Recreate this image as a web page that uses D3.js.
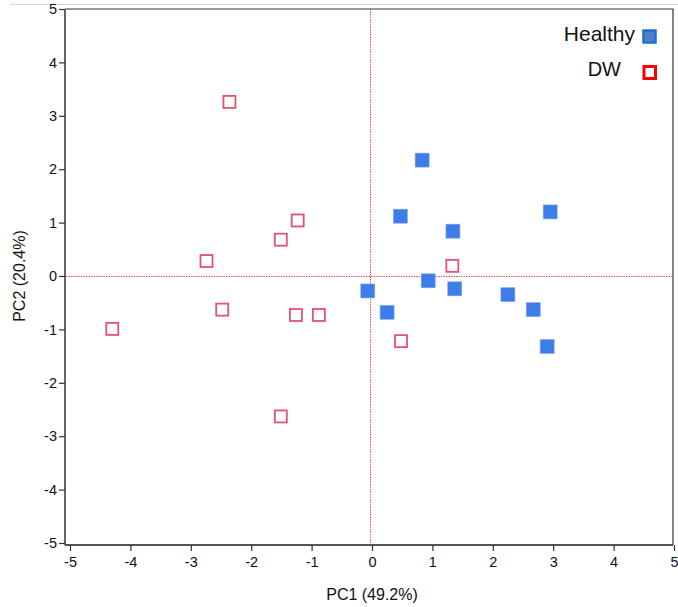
<!DOCTYPE html>
<html lang="en">
<head>
<meta charset="UTF-8">
<title>PCA scores</title>
<script src="https://d3js.org/d3.v7.min.js"></script>
<style>
  body { margin: 0; background: #fff; }
  text { font-family: "Liberation Sans", Arial, sans-serif; }
</style>
</head>
<body>
<svg id="main" width="678" height="607"></svg>
<script>
// scores
const healthyPC1 = [0.83, 0.47, 1.34, 2.95, 0.93, -0.07, 0.25, 1.37, 2.25, 2.67, 2.90];
const healthyPC2 = [2.17, 1.12, 0.84, 1.20, -0.09, -0.28, -0.68, -0.24, -0.35, -0.63, -1.32];
const dwPC1 = [-2.36, -1.23, -1.51, -2.74, -2.48, -1.26, -0.88, -4.30, -1.51, 1.33, 0.48];
const dwPC2 = [3.26, 1.04, 0.68, 0.28, -0.63, -0.73, -0.73, -0.99, -2.63, 0.19, -1.22];
const groups = ["Healthy", "DW"];
const xTicks = [-5, -4, -3, -2, -1, 0, 1, 2, 3, 4, 5];
const yTicks = [-5, -4, -3, -2, -1, 0, 1, 2, 3, 4, 5];

const svg = d3.select("#main");

let x = d3.scaleLinear().domain([-5, 5]).range([70, 674]);
let y = d3.scaleLinear().domain([-5, 5]).range([543, 9]);

// faint line at the very top
svg.append("line")
  .attr("x1", 10).attr("x2", 678).attr("y1", 4.5).attr("y2", 4.5)
  .attr("stroke", "#d4d4d4").attr("stroke-width", 1);

// frame top / right
svg.append("path")
  .attr("d", `M65,${y(5)}H673V545`)
  .attr("fill", "none").attr("stroke", "#333").attr("stroke-width", 1.2);

// axes
let xAxis = svg.append("g")
  .attr("transform", "translate(0,545)")
  .call(d3.axisBottom(x).tickValues(xTicks).tickFormat(d => String(d)).tickSize(6).tickSizeOuter(0));
let yAxis = svg.append("g")
  .attr("transform", "translate(65,0)")
  .call(d3.axisLeft(y).tickValues(yTicks).tickFormat(d => String(d)).tickSize(6).tickSizeOuter(0));

xAxis.select(".domain").attr("d", "M65,0H673");
yAxis.select(".domain").attr("d", `M0,${y(5)}V545`);

[xAxis, yAxis].forEach(g => {
  g.select(".domain").attr("stroke", "#555").attr("stroke-width", 1.8);
  g.selectAll(".tick line").attr("stroke", "#333").attr("stroke-width", 1.2);
  g.selectAll(".tick text").attr("fill", "#111").style("font-size", "14.5px");
});
xAxis.selectAll(".tick text").attr("dy", "0.9em");
yAxis.selectAll(".tick text").attr("x", -8);

// zero reference lines
svg.append("line")
  .attr("x1", x(0) - 1.5).attr("x2", x(0) - 1.5).attr("y1", y(5)).attr("y2", y(-5))
  .attr("stroke", "#e0506e").attr("stroke-width", 1).attr("stroke-dasharray", "1.5,1");
svg.append("line")
  .attr("x1", 66).attr("x2", 672).attr("y1", y(0) + 0.5).attr("y2", y(0) + 0.5)
  .attr("stroke", "#e0506e").attr("stroke-width", 1).attr("stroke-dasharray", "1.5,1");

// points
const s = 14;
const dw = dwPC1.map((v, i) => ({ pc1: v, pc2: dwPC2[i] }));
const healthy = healthyPC1.map((v, i) => ({ pc1: v, pc2: healthyPC2[i] }));

svg.append("g").selectAll("rect")
  .data(dw)
  .enter()
  .append("rect")
  .attr("x", d => x(d.pc1) - s / 2 + 1)
  .attr("y", d => y(d.pc2) - s / 2 + 1)
  .attr("width", s - 2).attr("height", s - 2)
  .attr("fill", "none")
  .attr("stroke", "#e8506f").attr("stroke-width", 1.8);

svg.append("g").selectAll("rect")
  .data(healthy)
  .enter()
  .append("rect")
  .attr("x", d => x(d.pc1) - s / 2)
  .attr("y", d => y(d.pc2) - s / 2)
  .attr("width", s).attr("height", s)
  .attr("fill", "#3d7dea")
  .attr("stroke", "#80a8ef").attr("stroke-width", 0.6);

// legend
let leg = svg.append("g");
leg.append("text").attr("x", 635).attr("y", 41).attr("text-anchor", "end")
  .style("font-size", "21px").attr("fill", "#111").text(groups[0]);
leg.append("rect").attr("x", 643.5).attr("y", 30.5).attr("width", 12).attr("height", 12)
  .attr("fill", "#4e80c6").attr("stroke", "#1e6fd4").attr("stroke-width", 2.5);
leg.append("text").attr("x", 621).attr("y", 76).attr("text-anchor", "end")
  .style("font-size", "20px").attr("fill", "#111").text(groups[1]);
leg.append("rect").attr("x", 644).attr("y", 66.5).attr("width", 11.5).attr("height", 12)
  .attr("fill", "#fff").attr("stroke", "#ff0000").attr("stroke-width", 3);

// axis titles
svg.append("text").attr("x", 372).attr("y", 600).attr("text-anchor", "middle")
  .style("font-size", "16px").attr("fill", "#111").text("PC1 (49.2%)");
svg.append("text").attr("transform", "translate(25,276) rotate(-90)").attr("text-anchor", "middle")
  .style("font-size", "16px").attr("fill", "#111").text("PC2 (20.4%)");
</script>
</body>
</html>
